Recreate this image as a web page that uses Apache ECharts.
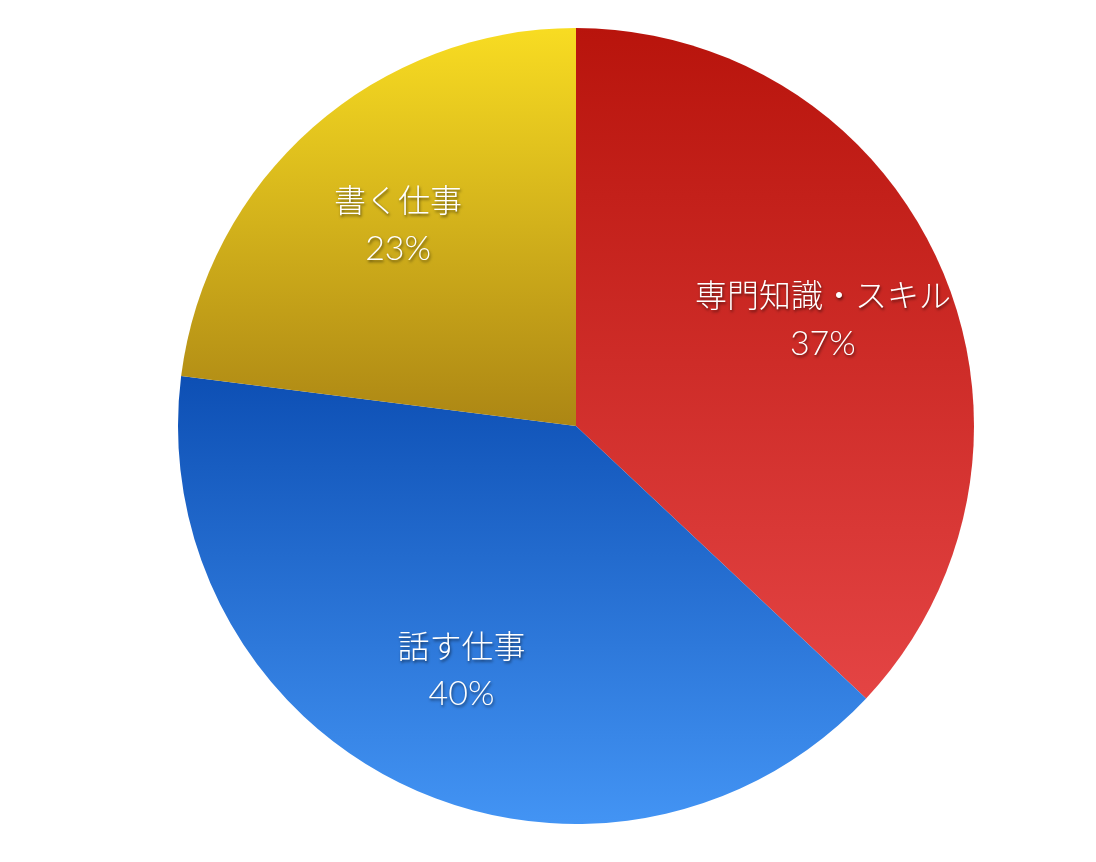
<!DOCTYPE html>
<html><head><meta charset="utf-8">
<script src="https://cdn.jsdelivr.net/npm/echarts@6/dist/echarts.min.js"></script>
<style>html,body{margin:0;padding:0;background:#fff}#c{width:1096px;height:862px}</style>
</head><body><div id="c"></div>
<script>
const categories = ['専門知識・スキル', '話す仕事', '書く仕事'];
const values = [37, 40, 23];
const topColors = ['#B8140C', '#0D4FB4', '#F8DC22'];
const bottomColors = ['#E44444', '#4394F4', '#AC8614'];

function grad(i){
  return new echarts.graphic.LinearGradient(0,0,0,1,[
    {offset:0,color:topColors[i]},{offset:1,color:bottomColors[i]}]);
}
const chart = echarts.init(document.getElementById('c'));
const center = [576, 426];
const shadow = {textShadowColor:'rgba(0,0,0,0.55)', textShadowBlur:3, textShadowOffsetX:1, textShadowOffsetY:2};
chart.setOption({
  backgroundColor:'#fff',
  animation:false,
  series:[
    {
      type:'pie', center:center, radius:[0,398], startAngle:90, clockwise:true,
      silent:true, label:{show:false}, labelLine:{show:false},
      data: categories.map((n,i)=>({name:n,value:values[i],itemStyle:{color:grad(i)}}))
    },
    {
      type:'pie', center:[576, 427], radius:[0,532], startAngle:90, clockwise:true,
      silent:true, z:5,
      itemStyle:{color:'rgba(0,0,0,0)'},
      labelLine:{show:false},
      label:{show:true, position:'inside', formatter:'{n|{b}}\n{p|{d}%}', color:'#fff',
        rich:{
          n:Object.assign({color:'#fff', fontSize:32, lineHeight:48, fontFamily:'"Noto Sans CJK JP", sans-serif', fontWeight:300}, shadow),
          p:Object.assign({color:'#fff', fontSize:34, lineHeight:50, fontFamily:'Lato, "Noto Sans", sans-serif', fontWeight:300}, shadow)
        }},
      data: categories.map((n,i)=>({name:n,value:values[i]}))
    }
  ]
});
</script></body></html>
